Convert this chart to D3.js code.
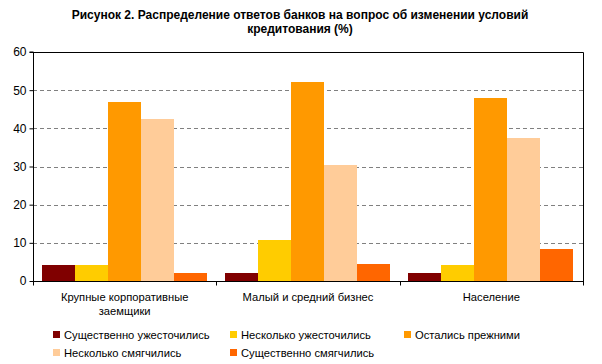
<!DOCTYPE html>
<html>
<head>
<meta charset="utf-8">
<title>Рисунок 2</title>
<script src="https://cdn.jsdelivr.net/npm/d3@7/dist/d3.min.js"></script>
<style>
  body { margin: 0; background: #fff; }
  text { font-family: "Liberation Sans", Arial, sans-serif; font-size: 11.2px; fill: #000; }
</style>
</head>
<body>
<div id="chart"></div>
<script>
  // data
  var categories = ["Крупные корпоративные|заемщики", "Малый и средний бизнес", "Население"];
  var seriesNames = ["Существенно ужесточились", "Несколько ужесточились", "Остались прежними",
                     "Несколько смягчились", "Существенно смягчились"];
  var seriesColors = ["#800000", "#FFCC00", "#FF9900", "#FFCC99", "#FF6600"];
  var strongTighter = [4.3, 2.1, 2.1];
  var someTighter   = [4.3, 10.8, 4.3];
  var unchanged     = [46.9, 52.1, 47.9];
  var someEasier    = [42.4, 30.5, 37.5];
  var strongEasier  = [2.2, 4.5, 8.4];
  var yTicks = [0, 10, 20, 30, 40, 50, 60];

  var values = [strongTighter, someTighter, unchanged, someEasier, strongEasier];

  var width = 602, height = 364;
  var pLeft = 33, pRight = 583, pTop = 52, pBottom = 281;

  var svg = d3.select("#chart").append("svg")
    .attr("width", width)
    .attr("height", height);

  // title
  var title = svg.append("text")
    .attr("text-anchor", "middle")
    .style("font-weight", "bold")
    .style("font-size", "12px");
  title.append("tspan").attr("x", 300).attr("y", 19)
    .text("Рисунок 2. Распределение ответов банков на вопрос об изменении условий");
  title.append("tspan").attr("x", 300).attr("y", 33)
    .text("кредитования (%)");

  var x = d3.scaleBand().domain(d3.range(categories.length)).range([pLeft, pRight]);
  var xs = d3.scaleBand().domain(d3.range(seriesNames.length))
    .range([8.5, x.bandwidth() - 9.5]);
  var y = d3.scaleLinear().domain([0, 60]).range([pBottom, pTop]);

  // gridlines
  svg.append("g").selectAll("line").data(yTicks.filter(function(d) { return d > 0 && d < 60; }))
    .enter().append("line")
    .attr("x1", pLeft).attr("x2", pRight)
    .attr("y1", function(d) { return Math.round(y(d)) + 0.5; })
    .attr("y2", function(d) { return Math.round(y(d)) + 0.5; })
    .style("stroke", "#808080")
    .style("stroke-dasharray", "4,3");

  // plot frame top and right
  svg.append("path")
    .attr("d", "M" + pLeft + "," + (pTop + 0.5) + "H" + (pRight + 0.5) + "V" + pBottom)
    .style("fill", "none").style("stroke", "#000");

  // bars
  var groups = svg.append("g").selectAll("g").data(values).enter().append("g")
    .style("fill", function(d, i) { return seriesColors[i]; });
  groups.each(function(series, s) {
    d3.select(this).selectAll("rect").data(series).enter().append("rect")
      .attr("x", function(d, c) { return Math.round(x(c) + xs(s)); })
      .attr("width", Math.round(xs.bandwidth()))
      .attr("y", function(d) { return Math.round(y(d)); })
      .attr("height", function(d) { return Math.round(y(0)) - Math.round(y(d)); });
  });

  // y axis
  var yAxis = svg.append("g")
    .attr("transform", "translate(" + (pLeft + 0.5) + ",0)")
    .call(d3.axisLeft(y).tickValues(yTicks).tickSize(4).tickPadding(3));
  yAxis.selectAll("text").style("font-size", "12px").style("font-family", "Liberation Sans, Arial, sans-serif");
  yAxis.select(".domain").attr("d", "M-4," + pTop + "H0V" + (pBottom + 0.5));

  // x axis
  var xAxis = svg.append("g").attr("transform", "translate(0," + (pBottom + 0.5) + ")");
  xAxis.append("line").attr("x1", pLeft).attr("x2", pRight + 1).style("stroke", "#000");
  xAxis.selectAll(".tk").data(d3.range(categories.length + 1)).enter().append("line")
    .attr("x1", function(d) { return Math.round(d < categories.length ? x(d) : pRight) + 0.5; })
    .attr("x2", function(d) { return Math.round(d < categories.length ? x(d) : pRight) + 0.5; })
    .attr("y1", 0).attr("y2", 4).style("stroke", "#000");
  xAxis.selectAll(".lbl").data(categories).enter().append("text")
    .attr("text-anchor", "middle")
    .each(function(d, i) {
      var t = d3.select(this);
      d.split("|").forEach(function(line, k) {
        t.append("tspan").attr("x", x(i) + x.bandwidth() / 2).attr("y", 19 + k * 14).text(line);
      });
    });

  // legend
  var legendPos = [[53, 331], [230, 331], [404, 331], [53, 349], [230, 349]];
  var legend = svg.append("g").selectAll("g").data(seriesNames).enter().append("g")
    .attr("transform", function(d, i) { return "translate(" + legendPos[i][0] + "," + legendPos[i][1] + ")"; });
  legend.append("rect").attr("width", 7).attr("height", 7)
    .style("fill", function(d, i) { return seriesColors[i]; });
  legend.append("text").attr("x", 11).attr("y", 8).text(function(d) { return d; });
</script>
</body>
</html>
